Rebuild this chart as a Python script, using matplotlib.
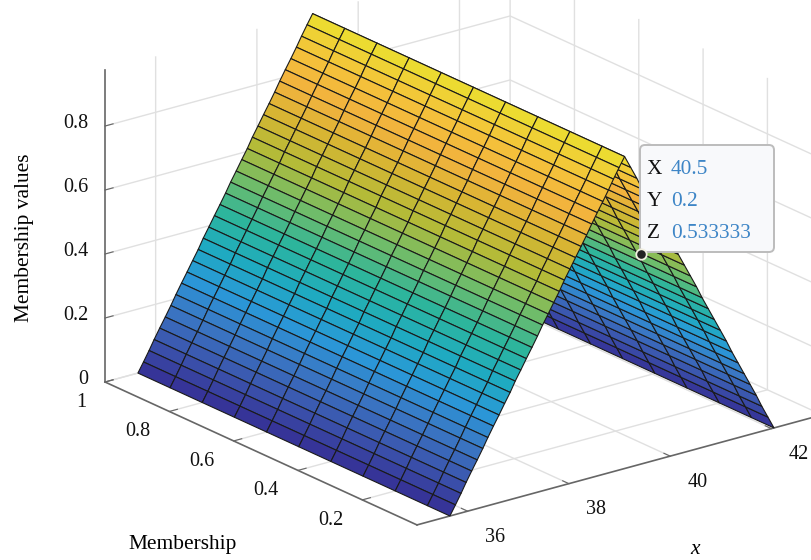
import numpy as np
import matplotlib
matplotlib.use("Agg")
import matplotlib.pyplot as plt
from matplotlib.colors import LinearSegmentedColormap
from matplotlib.patches import FancyBboxPatch
from mpl_toolkits.mplot3d import proj3d

# values
y_grid = [0.03, 0.1, 0.2, 0.3, 0.4, 0.5, 0.6, 0.7, 0.8, 0.9, 1]
x_rise = [35.65, 35.76, 35.87, 35.97, 36.08, 36.19, 36.3, 36.4, 36.51, 36.62, 36.73,
          36.84, 36.94, 37.05, 37.16, 37.27, 37.38, 37.48, 37.59, 37.7, 37.81, 37.91,
          38.02, 38.13, 38.24, 38.35, 38.45, 38.56, 38.67, 38.78, 38.88, 38.99, 39.1]
z_rise = [0, 0.03, 0.061, 0.091, 0.122, 0.152, 0.183, 0.213, 0.244, 0.274, 0.305,
          0.335, 0.366, 0.396, 0.427, 0.457, 0.488, 0.518, 0.548, 0.579, 0.609, 0.64,
          0.67, 0.701, 0.731, 0.762, 0.792, 0.823, 0.853, 0.884, 0.914, 0.945, 0.975]
x_fall = [39.1, 39.22, 39.34, 39.45, 39.57, 39.69, 39.81, 39.93, 40.04, 40.16, 40.28, 40.4,
          40.52, 40.63, 40.75, 40.87, 40.99, 41.11, 41.22, 41.34, 41.46, 41.58, 41.7,
          41.81, 41.93, 42.05]
z_fall = [0.975, 0.936, 0.897, 0.858, 0.819, 0.78, 0.741, 0.702, 0.663, 0.624, 0.585, 0.546,
          0.507, 0.468, 0.429, 0.39, 0.351, 0.312, 0.273, 0.234, 0.195, 0.156, 0.117,
          0.078, 0.039, 0]
x_ticks = [36, 38, 40, 42]
y_ticks = [0.2, 0.4, 0.6, 0.8, 1]
z_ticks = [0, 0.2, 0.4, 0.6, 0.8]
x_tick_labels = ["36", "38", "40", "42"]
y_tick_labels = ["0.2", "0.4", "0.6", "0.8", "1"]
z_tick_labels = ["0", "0.2", "0.4", "0.6", "0.8"]
tip_x, tip_y, tip_z = 40.5, 0.2, 0.533333

cmap_colors = ["#352f95", "#3b55ad", "#3a78c4", "#2a98d8", "#1fabc0", "#2db59c",
               "#6fbc6a", "#b3bb38", "#d6b532", "#f2b23e", "#f4c33a", "#ebde30"]

plt.rcParams["font.family"] = ["Liberation Serif", "DejaVu Serif"]
plt.rcParams["grid.color"] = "#e0e0e0"
plt.rcParams["grid.linewidth"] = 1.0
plt.rcParams["xtick.color"] = "#666666"
plt.rcParams["ytick.color"] = "#666666"

W, H = 811, 560
fig = plt.figure(figsize=(W / 100, H / 100), dpi=100)
ax = fig.add_axes([66.6 / W, -79.4 / H, 773 / W, 773 / H], projection="3d",
                  proj_type="ortho", computed_zorder=False)
ax.view_init(elev=20.66, azim=232.4)
ax.set_box_aspect((1, 1, 0.652))
ax.patch.set_alpha(0)
ax.set_xlim(35, 43, view_margin=0)
ax.set_ylim(0.03, 1, view_margin=0)
ax.set_zlim(0, 0.975, view_margin=0)

parula = LinearSegmentedColormap.from_list("parula_like", cmap_colors)

Xf, Yf = np.meshgrid(x_fall, y_grid)
Zf = np.tile(z_fall, (len(y_grid), 1))
ax.plot_surface(Xf, Yf, Zf, cmap=parula, vmin=0, vmax=0.975, rstride=1, cstride=1,
                edgecolor="#1a1a1a", linewidth=0.8, shade=False, zorder=2)
Xr, Yr = np.meshgrid(x_rise, y_grid)
Zr = np.tile(z_rise, (len(y_grid), 1))
ax.plot_surface(Xr, Yr, Zr, cmap=parula, vmin=0, vmax=0.975, rstride=1, cstride=1,
                edgecolor="#1a1a1a", linewidth=0.8, shade=False, zorder=3)

ax.set_xticks(x_ticks)
ax.set_yticks(y_ticks)
ax.set_zticks(z_ticks)
ax.tick_params(axis="both", labelbottom=False, labelleft=False)
ax.tick_params(axis="z", labelleft=False, labelright=False)
ax.zaxis.set_ticks_position("upper")
for axis in (ax.xaxis, ax.yaxis, ax.zaxis):
    axis.set_pane_color((1, 1, 1, 0))
    axis.pane.set_edgecolor((1, 1, 1, 0))
    axis.line.set_color("#666666")
    axis.line.set_linewidth(1.2)
    axis._axinfo["tick"]["inward_factor"] = 0.0
    axis._axinfo["tick"]["outward_factor"] = 0.25

fig.text(183 / W, 1 - 545 / H, "Membership", fontsize=15.4, ha="center", va="center")
fig.text(25 / W, 1 - 238 / H, "Membership values", fontsize=15.4, rotation=90,
         ha="center", va="center")
fig.text(695 / W, 1 - 549 / H, "x", fontsize=15.4, style="italic", ha="center", va="center")

# overlay in pixel space, for the tick labels and the data tip
over = fig.add_axes([0, 0, 1, 1], facecolor="none")
over.set_xlim(0, W)
over.set_ylim(H, 0)
over.axis("off")

def to_over(x, y, z):
    tx, ty, _ = proj3d.proj_transform(x, y, z, ax.get_proj())
    return over.transData.inverted().transform(ax.transData.transform((tx, ty)))

# mplot3d's own pad can't place the tick labels like this
for val, lab in zip(x_ticks, x_tick_labels):
    px, py = to_over(val, -0.055, -0.042)
    over.text(px, py, lab, fontsize=14.5, ha="center", va="center", color="#111111")
for val, lab in zip(y_ticks, y_tick_labels):
    px, py = to_over(34.625, val, -0.047)
    over.text(px, py, lab, fontsize=14.5, ha="right", va="center", color="#111111")
for val, lab in zip(z_ticks, z_tick_labels):
    px, py = to_over(34.665, 1, val + 0.0225)
    over.text(px, py, lab, fontsize=14.5, ha="right", va="center", color="#111111")

box = FancyBboxPatch((640, 145), 134, 107, boxstyle="round,pad=0,rounding_size=5",
                     facecolor="#f8f9fb", edgecolor="#bcbcbc", linewidth=1.4)
over.add_patch(box)
rows = [("X", "40.5", 169.5), ("Y", "0.2", 201.5), ("Z", "0.533333", 233.5)]
for name, value, ypos in rows:
    over.text(647, ypos, name, fontsize=15.4, color="#111111", va="center")
    over.text(671, ypos, value, fontsize=15.4, color="#3d85c6", va="center")
px, py = to_over(tip_x, tip_y, tip_z)
over.plot([px], [py], "o", ms=7.5, mfc="#222222", mec="#f1efe0", mew=1.3)

fig.savefig("out.png", dpi=100)
